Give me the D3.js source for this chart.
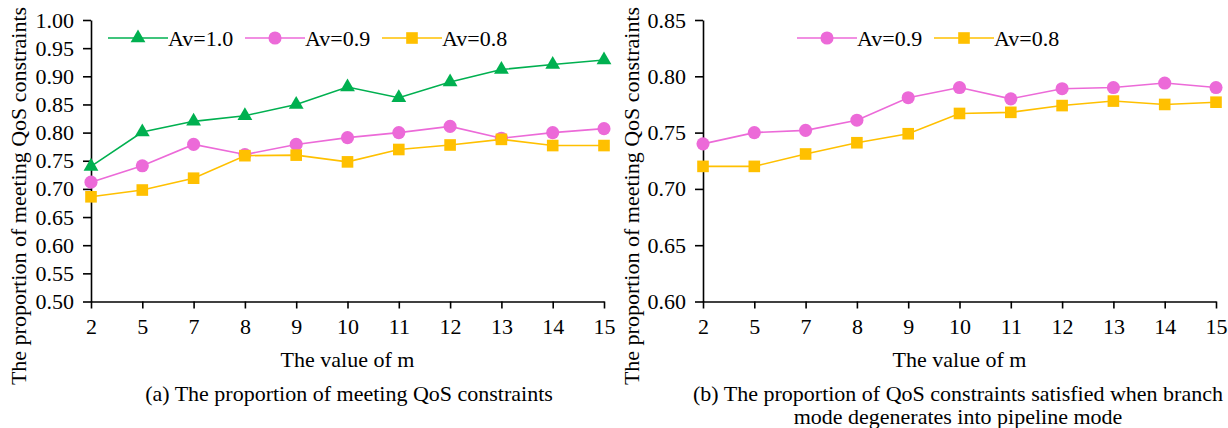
<!DOCTYPE html>
<html>
<head>
<meta charset="utf-8">
<script src="https://cdn.jsdelivr.net/npm/d3@7"></script>
<style>
  html, body { margin: 0; padding: 0; background: #fff; }
  svg text { font-family: "Liberation Serif", "Times New Roman", serif; fill: #000; }
</style>
</head>
<body>
<svg id="chart" width="1228" height="428"></svg>
<script>
// Values of m on the x axis
const mValues = ["2", "5", "7", "8", "9", "10", "11", "12", "13", "14", "15"];

// (a) proportion of meeting QoS constraints
const leftAv10 = [0.740, 0.801, 0.820, 0.830, 0.850, 0.881, 0.862, 0.890, 0.912, 0.921, 0.929];
const leftAv09 = [0.712, 0.741, 0.779, 0.761, 0.779, 0.791, 0.800, 0.811, 0.790, 0.800, 0.807];
const leftAv08 = [0.686, 0.698, 0.719, 0.759, 0.760, 0.748, 0.770, 0.778, 0.788, 0.777, 0.777];
const leftTicks = [0.50, 0.55, 0.60, 0.65, 0.70, 0.75, 0.80, 0.85, 0.90, 0.95, 1.00];

// (b) branch mode degenerated into pipeline mode
const rightAv09 = [0.740, 0.750, 0.752, 0.761, 0.781, 0.790, 0.780, 0.789, 0.790, 0.794, 0.790];
const rightAv08 = [0.720, 0.720, 0.731, 0.741, 0.749, 0.767, 0.768, 0.774, 0.778, 0.775, 0.777];
const rightTicks = [0.60, 0.65, 0.70, 0.75, 0.80, 0.85];

const GREEN = "#00B050", PINK = "#EC6AD8", GOLD = "#FFC000";
const FONT = 22;

const svg = d3.select("#chart");

function drawPanel(cfg) {
  const x = d3.scalePoint().domain(mValues).range([cfg.x0, cfg.x1]).padding(0);
  const y = d3.scaleLinear().domain(cfg.yDomain).range([cfg.yBottom, cfg.yTop]);

  const g = svg.append("g");

  // x axis
  const xa = g.append("g")
    .attr("transform", `translate(0,${cfg.yBottom})`)
    .call(d3.axisBottom(x).tickSize(7).tickPadding(10).tickSizeOuter(0));
  // y axis
  const ya = g.append("g")
    .attr("transform", `translate(${cfg.x0},0)`)
    .call(d3.axisLeft(y).tickValues(cfg.yTicks).tickFormat(d3.format(".2f"))
      .tickSize(8).tickPadding(9).tickSizeOuter(0));
  [xa, ya].forEach(a => {
    a.attr("font-family", null).attr("font-size", null);
    a.select(".domain").attr("stroke", "#000").attr("stroke-width", 1.6);
    a.selectAll(".tick line").attr("stroke", "#000").attr("stroke-width", 1.6);
    a.selectAll(".tick text").attr("font-size", FONT).attr("fill", "#000");
  });

  // series
  cfg.series.forEach(s => {
    const line = d3.line().x((d, i) => x(mValues[i])).y(d => y(d));
    g.append("path").datum(s.values)
      .attr("fill", "none").attr("stroke", s.color).attr("stroke-width", 1.6)
      .attr("d", line);
    g.selectAll(null).data(s.values).enter()
      .append("path")
      .attr("transform", (d, i) => `translate(${x(mValues[i])},${y(d)})`)
      .attr("d", d3.symbol().type(s.symbol).size(s.size)())
      .attr("fill", s.color);
  });

  // legend
  let lx = cfg.legendX;
  const ly = cfg.legendY;
  cfg.series.forEach(s => {
    g.append("line").attr("x1", lx).attr("x2", lx + 60).attr("y1", ly).attr("y2", ly)
      .attr("stroke", s.color).attr("stroke-width", 1.6);
    g.append("path").attr("transform", `translate(${lx + 30},${ly})`)
      .attr("d", d3.symbol().type(s.symbol).size(s.size)()).attr("fill", s.color);
    g.append("text").attr("x", lx + 60).attr("y", ly).attr("dy", "0.35em")
      .attr("font-size", FONT).text(s.name);
    lx += cfg.legendStep;
  });

  // axis titles
  const cx = (cfg.x0 + cfg.x1) / 2;
  g.append("text").attr("x", cx).attr("y", 367)
    .attr("text-anchor", "middle").attr("font-size", FONT).text("The value of m");
  g.append("text")
    .attr("transform", `translate(${cfg.titleX},${cfg.titleY}) rotate(-90)`)
    .attr("text-anchor", "middle").attr("dy", "0.35em")
    .attr("font-size", FONT).text("The proportion of meeting QoS constraints");

  // caption
  cfg.caption.forEach((t, i) => {
    g.append("text").attr("x", cfg.captionX).attr("y", 401 + i * 23)
      .attr("text-anchor", "middle").attr("font-size", FONT).text(t);
  });
}

drawPanel({
  x0: 91, x1: 604, yTop: 20, yBottom: 301.5,
  yDomain: [0.50, 1.00], yTicks: leftTicks,
  titleX: 18, titleY: 196,
  legendX: 108, legendY: 38, legendStep: 137,
  captionX: 349,
  caption: ["(a) The proportion of meeting QoS constraints"],
  series: [
    { name: "Av=1.0", values: leftAv10, color: GREEN, symbol: d3.symbolTriangle, size: 95 },
    { name: "Av=0.9", values: leftAv09, color: PINK, symbol: d3.symbolCircle, size: 135 },
    { name: "Av=0.8", values: leftAv08, color: GOLD, symbol: d3.symbolSquare, size: 135 }
  ]
});

drawPanel({
  x0: 703, x1: 1216, yTop: 20, yBottom: 301.5,
  yDomain: [0.60, 0.85], yTicks: rightTicks,
  titleX: 631, titleY: 196,
  legendX: 797, legendY: 38, legendStep: 137,
  captionX: 958,
  caption: ["(b) The proportion of QoS constraints satisfied when branch",
            "mode degenerates into pipeline mode"],
  series: [
    { name: "Av=0.9", values: rightAv09, color: PINK, symbol: d3.symbolCircle, size: 135 },
    { name: "Av=0.8", values: rightAv08, color: GOLD, symbol: d3.symbolSquare, size: 135 }
  ]
});
</script>
</body>
</html>
